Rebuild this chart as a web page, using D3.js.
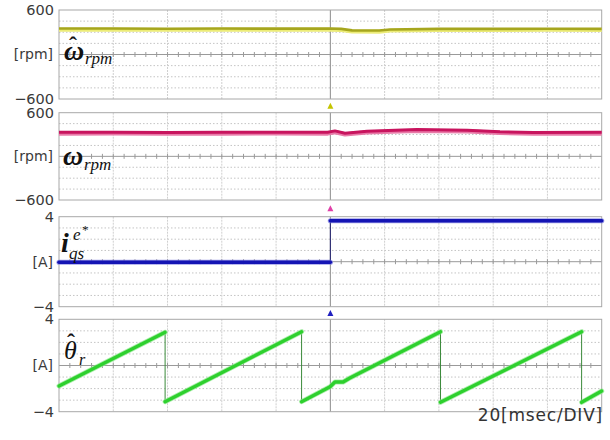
<!DOCTYPE html>
<html><head><meta charset="utf-8">
<script src="https://cdn.jsdelivr.net/npm/d3@7"></script>
<style>body{margin:0;background:#fff} svg{display:block}</style>
</head><body><svg id="c" width="610" height="440"></svg>
<script>
// ---------- data (time in ms, 20 ms/DIV, 10 DIV) ----------
const speedTicks = [-600, 600];
const currentTicks = [-4, 4];

const estSpeedTime  = [0, 20, 40, 60, 80, 100, 104, 108, 118, 122, 140, 160, 180, 200];
const estSpeedValue = [350, 350, 348, 350, 349, 350, 345, 325, 323, 338, 346, 345, 348, 346];

const speedTime  = [0, 20, 40, 60, 80, 99, 101.7, 105.4, 113.5, 131.9, 150.4, 162.5, 174.7, 200];
const speedValue = [330, 332, 328, 330, 331, 330, 350, 318, 346, 368, 360, 338, 328, 330];

const iqsTime  = [0, 100, 100, 200];
const iqsValue = [-0.05, -0.05, 3.64, 3.64];

const thetaTime  = [0, 39.1, 39.1, 89.4, 89.4, 99.9, 101.7, 104.7, 107.2, 140.6, 140.6, 192.6, 192.6, 200];
const thetaValue = [-1.77, 2.87, -3.13, 2.93, -3.13, -1.84, -1.43, -1.43, -1.08, 2.93, -3.19, 2.93, -3.19, -2.21];

// ---------- layout ----------
const svg = d3.select("#c");
const L = 59, R = 601.7;
const x = d3.scaleLinear().domain([0, 200]).range([L, R]);

const panels = [
  {top: 10, bottom: 99, ticks: speedTicks, unit: "[rpm]", t: estSpeedTime, v: estSpeedValue,
   color: "#a6a61e", glow: "#ecec78", width: 2.6, marker: "#c4c400"},
  {top: 112.7, bottom: 200, ticks: speedTicks, unit: "[rpm]", t: speedTime, v: speedValue,
   color: "#c8145e", glow: "#e87aa8", width: 3, marker: "#e040a8"},
  {top: 216.7, bottom: 306.7, ticks: currentTicks, unit: "[A]", t: iqsTime, v: iqsValue,
   color: "#1414b4", glow: "#7a7ae0", width: 3.6, marker: "#2020c0", thin: "#202070"},
  {top: 319.3, bottom: 411.7, ticks: currentTicks, unit: "[A]", t: thetaTime, v: thetaValue,
   color: "#2ed02e", glow: "#8ae88a", width: 3.4, thin: "#3a8a3a"}
];

panels.forEach((p, i) => {
  const y = d3.scaleLinear().domain([p.ticks[0], p.ticks[1]]).range([p.bottom, p.top]);
  const g = svg.append("g");
  const mid = (p.top + p.bottom) / 2;

  d3.range(1, 8).forEach(k => {
    if (k === 4) return;
    const yy = p.top + (p.bottom - p.top) * k / 8;
    g.append("line").attr("x1", L).attr("x2", R).attr("y1", yy).attr("y2", yy)
      .attr("stroke", "#c4c4c4").attr("stroke-width", 1).attr("stroke-dasharray", "1.5,2");
  });
  x.ticks(10).forEach(t => {
    if (t === 0 || t === 200) return;
    g.append("line").attr("x1", x(t)).attr("x2", x(t)).attr("y1", p.top).attr("y2", p.bottom)
      .attr("stroke", t === 100 ? "#8c8c8c" : "#cfcfcf").attr("stroke-width", 1)
      .attr("stroke-dasharray", t === 100 ? null : "2,1");
  });
  g.append("line").attr("x1", L).attr("x2", R).attr("y1", mid).attr("y2", mid)
    .attr("stroke", "#9a9a9a").attr("stroke-width", 1);
  d3.range(4, 200, 4).forEach(t => {
    g.append("line").attr("x1", x(t)).attr("x2", x(t)).attr("y1", mid - 2.5).attr("y2", mid + 2.5)
      .attr("stroke", "#9a9a9a").attr("stroke-width", 1);
  });
  g.append("rect").attr("x", L).attr("y", p.top).attr("width", R - L).attr("height", p.bottom - p.top)
    .attr("fill", "none").attr("stroke", "#a8a8a8").attr("stroke-width", 1);

  const ax = d3.axisLeft(y).tickValues(p.ticks).tickSize(0).tickPadding(5);
  const ag = svg.append("g").attr("transform", `translate(${L},0)`).call(ax);
  ag.select(".domain").remove();
  ag.selectAll("text").attr("font-family", "DejaVu Sans").attr("font-size", 14.5).attr("fill", "#3a3a3a");

  svg.append("text").attr("x", 53).attr("y", mid).attr("dy", "0.35em").attr("text-anchor", "end")
    .attr("font-family", "DejaVu Sans").attr("font-size", 14).attr("fill", "#3a3a3a").text(p.unit);

  const pts = p.t.map((t, j) => [t, p.v[j]]);
  const line = d3.line().x(d => x(d[0])).y(d => y(d[1]));
  if (p.thin) {
    svg.append("path").attr("d", line(pts)).attr("fill", "none")
      .attr("stroke", p.thin).attr("stroke-width", 1);
    let seg = [pts[0]];
    const segs = [];
    for (let j = 1; j < pts.length; j++) {
      if (pts[j][0] === pts[j - 1][0]) { segs.push(seg); seg = [pts[j]]; }
      else seg.push(pts[j]);
    }
    segs.push(seg);
    segs.forEach(s => {
      svg.append("path").attr("d", line(s)).attr("fill", "none").attr("stroke", p.glow)
        .attr("stroke-width", p.width + 1.6).attr("stroke-linecap", "round").attr("stroke-linejoin", "round").attr("opacity", 0.7);
      svg.append("path").attr("d", line(s)).attr("fill", "none").attr("stroke", p.color)
        .attr("stroke-width", p.width).attr("stroke-linecap", "round").attr("stroke-linejoin", "round");
    });
  } else {
    svg.append("path").attr("d", line(pts)).attr("fill", "none").attr("stroke", p.glow)
      .attr("stroke-width", p.width + 1.2).attr("transform", "translate(0,1.2)").attr("stroke-linejoin", "round");
    svg.append("path").attr("d", line(pts)).attr("fill", "none").attr("stroke", p.color)
      .attr("stroke-width", p.width).attr("stroke-linejoin", "round");
  }

  if (p.marker) {
    const ty = p.bottom + (panels[i + 1].top - p.bottom) / 2;
    const cx = x(100);
    svg.append("path").attr("d", `M${cx - 3},${ty + 3} L${cx + 3},${ty + 3} L${cx},${ty - 3} Z`)
      .attr("fill", p.marker);
  }
});

// ---------- symbol labels ----------
const serif = "Liberation Serif";
function txt(xp, yp, s, size, opts = {}) {
  return svg.append("text").attr("x", xp).attr("y", yp).attr("font-family", serif)
    .attr("font-size", size).attr("font-style", opts.italic === false ? "normal" : "italic")
    .attr("font-weight", opts.bold ? "bold" : "normal").attr("fill", "#111").text(s);
}
// panel 1: omega hat rpm
txt(64, 60, "ω", 28, {bold: true});
txt(69, 53, "ˆ", 24, {bold: true, italic: false});
txt(85, 64, "rpm", 17);
// panel 2: omega rpm
txt(63, 165, "ω", 28, {bold: true});
txt(84, 170, "rpm", 17);
// panel 3: i_qs^e*
txt(61, 252, "i", 28, {bold: true});
txt(73, 240, "e", 17);
txt(82, 234, "*", 13, {italic: false});
txt(69, 259, "qs", 17);
// panel 4: theta hat r
txt(64, 359, "θ", 26);
txt(67, 350, "ˆ", 24, {bold: true, italic: false});
txt(79, 365, "r", 16);

svg.append("text").attr("x", 603).attr("y", 421).attr("text-anchor", "end")
  .attr("font-family", "DejaVu Sans").attr("font-size", 17).attr("letter-spacing", 0.8)
  .attr("fill", "#333").text("20[msec/DIV]");
</script>
</body></html>
